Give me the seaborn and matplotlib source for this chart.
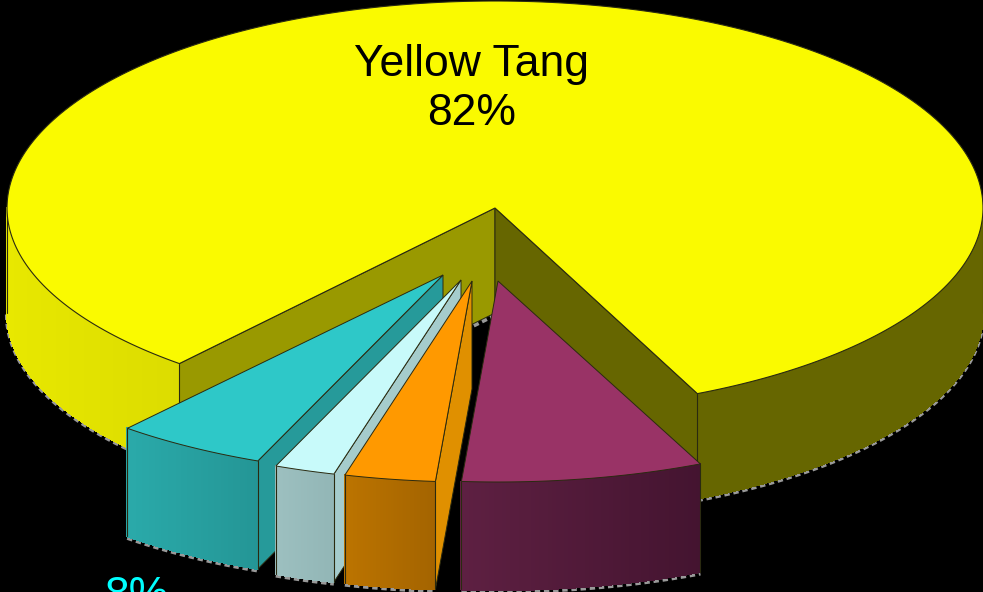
import numpy as np
import matplotlib
matplotlib.use("Agg")
import matplotlib.pyplot as plt
from matplotlib.collections import PolyCollection
from matplotlib.colors import to_rgb
import seaborn as sns

# data
names = ["Yellow Tang", "Teal", "Pale", "Orange", "Purple"]
shares = [82, 5, 2, 3, 8]
main_label = "Yellow Tang\n82%"
stray_label = "8%"

# colours
top_colors = ["#FAFA00", "#2EC8C8", "#C8FAFA", "#FF9900", "#993366"]
side_left = ["#E8E800", "#2AAAAA", "#9DC0C0", "#BC7400", "#5E2042"]
side_right = ["#DCDC00", "#249696", "#92B6B6", "#A46400", "#441430"]
cut_right = ["#666600", "#269A9A", "#A5CCCC", "#E09000", "#441430"]
cut_left = "#999900"
right_wall = "#666600"
edge = "#2A2A10"

# layout
cx, cy, rx = 495, 208, 488
ry_back, ry_main, ry_slice = 207, 204, 201
depth_main, depth_slice = 105, 108
start_angle = 294.5
dx = [0, -52, -34, -23, 3]
dy = [0, 67, 72, 73, 73]

sns.set_theme(style="white")
plt.rcParams["font.family"] = ["Liberation Sans", "DejaVu Sans"]
fig = plt.figure(figsize=(9.83, 5.92), dpi=100, facecolor="black")
ax = fig.add_axes([0, 0, 1, 1])
ax.set_xlim(0, 983)
ax.set_ylim(592, 0)
ax.axis("off")


def arc(a0, a1, ox, oy, ry_front, n=80):
    t = np.radians(np.linspace(a0, a1, n))
    s = np.sin(t)
    return np.c_[ox + rx * np.cos(t), oy - np.where(s > 0, ry_back, ry_front) * s]


def side(a0, a1, ox, oy, ry_front, depth, c0, c1, z):
    """Outer wall between two angles (a0 < a1), shaded left to right."""
    pts = arc(a0, a1, ox, oy, ry_front, 60)
    x0, x1 = pts[:, 0].min(), pts[:, 0].max()
    polys, cols = [], []
    for p, q in zip(pts[:-1], pts[1:]):
        polys.append([p, q, q + [0, depth], p + [0, depth]])
        f = (0.5 * (p[0] + q[0]) - x0) / max(x1 - x0, 1)
        cols.append(tuple((1 - f) * np.array(to_rgb(c0)) + f * np.array(to_rgb(c1))))
    ax.add_collection(PolyCollection(polys, facecolors=cols, edgecolors=cols, lw=0.8,
                                     antialiaseds=False, zorder=z))
    ax.plot(pts[:, 0], pts[:, 1] + depth + 1.5, color="#999999", lw=3,
            dashes=(1.3, 0.9), zorder=z - 0.2)
    for p in (pts[0], pts[-1]):
        ax.plot([p[0], p[0]], [p[1], p[1] + depth], color=edge, lw=0.8, zorder=z + 0.1)


def cut(p, q, depth, color, z):
    """Flat cut face hanging below the edge p-q."""
    d = np.array([0, depth])
    ax.fill(*np.array([p, q, q + d, p + d]).T, fc=color, ec=edge, lw=0.7, zorder=z)


angles = start_angle + np.cumsum([0] + [s * 3.6 for s in shares])

# main slice
a0, a1 = angles[0], angles[1] - 360
apex = np.array([cx, cy], float)
near = arc(a1, a1, cx, cy, ry_main, 1)[0]
far = arc(a0, a0, cx, cy, ry_main, 1)[0]
ax.plot(*np.array([apex + [0, depth_main + 2], near + [0, depth_main + 2]]).T,
        color="#999999", lw=3, dashes=(1.3, 0.9), zorder=0.5)
cut(apex, near, depth_main, cut_left, 1)
cut(apex, far, depth_main, right_wall, 1.1)
side(180, a1, cx, cy, ry_main, depth_main, side_left[0], side_right[0], 1.5)
side(a0, 360, cx, cy, ry_main, depth_main, right_wall, right_wall, 1.5)
top = np.vstack([apex, arc(a0, a1 + 360, cx, cy, ry_main, 300)])
ax.fill(*top.T, fc=top_colors[0], ec=edge, lw=0.8, zorder=2)

# exploded slices
for i in range(1, len(shares)):
    z = 3 + i
    b0, b1 = angles[i] - 360, angles[i + 1] - 360
    ox, oy = cx + dx[i], cy + dy[i]
    ap = np.array([ox, oy], float)
    end = arc(b1, b1, ox, oy, ry_slice, 1)[0]
    if i < 4:
        cut(ap, end, depth_slice, cut_right[i], z)
    side(b0, b1, ox, oy, ry_slice, depth_slice, side_left[i], side_right[i], z + 0.2)
    ax.fill(*np.vstack([ap, arc(b0, b1, ox, oy, ry_slice, 40)]).T,
            fc=top_colors[i], ec=edge, lw=0.7, zorder=z + 0.5)

ax.text(472, 89, main_label, ha="center", va="center", fontsize=32, color="black",
        linespacing=1.22, zorder=20)
ax.text(136, 608, stray_label, ha="center", va="baseline", fontsize=32, color="#00FFFF",
        clip_on=False, zorder=20)

fig.savefig("out.png", dpi=100, facecolor="black")
